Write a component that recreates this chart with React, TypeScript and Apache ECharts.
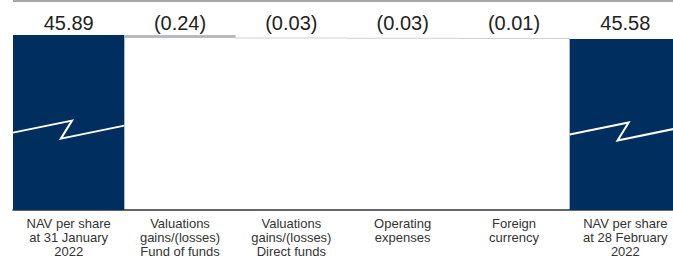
import React, { useEffect, useRef } from "react";
import * as echarts from "echarts";

const categories = [
  "NAV per share\nat 31 January\n2022",
  "Valuations\ngains/(losses)\nFund of funds",
  "Valuations\ngains/(losses)\nDirect funds",
  "Operating\nexpenses",
  "Foreign\ncurrency",
  "NAV per share\nat 28 February\n2022",
];
const openingNav = 45.89;
const movements = [-0.24, -0.03, -0.03, -0.01];
const closingNav = 45.58;
const axisFloor = 32.3;

const NAVY = "#002f5f";
const barColors = [NAVY, "#b8bbbe", "#cfcfcf", "#cfcfcf", "#cfcfcf", NAVY];

function fmt(v: number): string {
  return v < 0 ? `(${Math.abs(v).toFixed(2)})` : v.toFixed(2);
}

export default function App() {
  const ref = useRef<HTMLDivElement>(null);
  useEffect(() => {
    if (!ref.current) return;
    const chart = echarts.init(ref.current, null, { renderer: "svg" });

    const base: number[] = [0];
    const delta: number[] = [openingNav];
    let running = openingNav;
    movements.forEach((m) => {
      running += m;
      base.push(running);
      delta.push(Math.abs(m));
    });
    base.push(0);
    delta.push(closingNav);
    const shown = [openingNav, ...movements, closingNav];

    const font = "'Liberation Sans', Arial, Helvetica, sans-serif";

    chart.setOption({
      animation: false,
      grid: { left: 13, right: 0, top: 35, bottom: 47 },
      xAxis: [
        {
          type: "category",
          data: categories,
          position: "bottom",
          axisLine: { show: true, lineStyle: { color: "#333", width: 1.5 } },
          axisTick: { show: false },
          axisLabel: {
            interval: 0,
            margin: 6,
            fontSize: 13,
            lineHeight: 14,
            color: "#333",
            fontFamily: font,
            align: "center",
          },
        },
        {
          type: "category",
          data: categories,
          position: "top",
          axisLine: { show: false },
          axisTick: { show: false },
          axisLabel: {
            interval: 0,
            margin: 2,
            fontSize: 20,
            lineHeight: 20,
            color: "#222",
            fontFamily: font,
            formatter: (_: string, i: number) => fmt(shown[i]),
          },
        },
      ],
      yAxis: {
        type: "value",
        min: axisFloor,
        max: openingNav,
        show: false,
        splitLine: { show: false },
      },
      graphic: [
        {
          type: "line",
          shape: { x1: 13, y1: 1, x2: 681, y2: 1 },
          style: { stroke: "#8a8a8a", lineWidth: 1.5 },
          silent: true,
        },
      ],
      series: [
        {
          type: "bar",
          stack: "w",
          data: base,
          barWidth: "100%",
          barCategoryGap: 0,
          itemStyle: { color: "transparent" },
          silent: true,
        },
        {
          type: "bar",
          stack: "w",
          barWidth: "100%",
          barCategoryGap: 0,
          barMinHeight: 1,
          data: delta.map((v, i) => ({ value: v, itemStyle: { color: barColors[i] } })),
        },
        {
          type: "custom",
          z: 10,
          data: [
            [0, openingNav],
            [5, closingNav],
          ],
          renderItem: (params: any, api: any) => {
            const idx = api.value(0);
            const val = api.value(1);
            const top = api.coord([idx, val]);
            const bottom = api.coord([idx, axisFloor]);
            const w = api.size([1, 0])[0];
            const xl = top[0] - w / 2;
            const mid = top[1] + (bottom[1] - top[1]) * 0.535;
            return {
              type: "polyline",
              shape: {
                points: [
                  [xl, mid + 4],
                  [xl + w * 0.53, mid - 8],
                  [xl + w * 0.43, mid + 10],
                  [xl + w, mid - 3],
                ],
              },
              style: { stroke: "#ffffff", lineWidth: 2, fill: "none" },
            };
          },
        },
      ],
    });
    return () => chart.dispose();
  }, []);
  return (
    <div
      style={{ position: "fixed", left: 0, top: 0, width: 673, height: 258, overflow: "hidden", background: "#fff" }}
    >
      <div ref={ref} style={{ width: 681, height: 258 }} />
    </div>
  );
}
